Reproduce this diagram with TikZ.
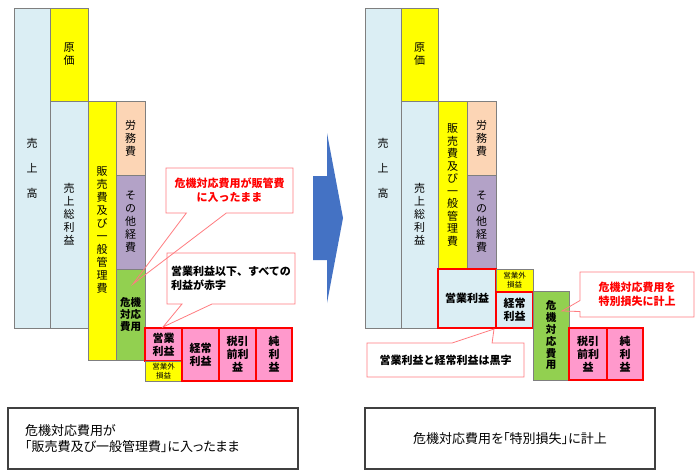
\documentclass[tikz,border=0pt]{standalone}
\usepackage{fontspec}
\setmainfont{Noto Sans CJK JP}
\newfontfamily\notefont[RawFeature=+palt]{Noto Sans CJK JP}
\usepackage[HTML]{xcolor}
\usetikzlibrary{shapes.callouts}

\definecolor{urifill}{HTML}{DBEEF4}
\definecolor{genkafill}{HTML}{FFFF00}
\definecolor{roumufill}{HTML}{FCD5B5}
\definecolor{sonotafill}{HTML}{B3A2C7}
\definecolor{kikifill}{HTML}{92D050}
\definecolor{riekifill}{HTML}{FF99CC}
\definecolor{callline}{HTML}{FF7C80}
\definecolor{arrowblue}{HTML}{4472C4}
\definecolor{barline}{HTML}{7F7F7F}

\begin{document}
\begin{tikzpicture}[x=1pt, y=-1pt,
  bar/.style={draw=barline, line width=0.8pt, inner sep=0pt, outer sep=0pt, align=center, font=\fontsize{11}{13}\selectfont},
  rieki/.style={bar, draw=red, line width=1.4pt, font=\fontsize{11}{13}\selectfont\bfseries},
  gaibox/.style={bar, fill=genkafill, font=\fontsize{7.5}{9}\selectfont},
  callbox/.style={rectangle callout, draw=callline, line width=0.8pt, inner sep=0pt, align=center, font=\fontsize{11}{14}\selectfont\bfseries},
  notebox/.style={draw=black!75, line width=1.2pt, minimum width=290, minimum height=61, inner sep=0pt, font=\notefont\fontsize{13}{16}\selectfont}]
\useasboundingbox (0,0) rectangle (700,472);
\fill[white] (0,0) rectangle (700,472);

% left: before
\node[bar, fill=urifill, minimum width=36, minimum height=320, font=\fontsize{11}{25}\selectfont] (uri1) at (32,168) {売\\上\\高};
\node[bar, fill=genkafill, minimum width=38, minimum height=93] (genka1) at (69,54.5) {原\\価};
\node[bar, fill=urifill, minimum width=38, minimum height=227] (sourieki1) at (69,214.5) {売\\上\\総\\利\\益};
\node[bar, fill=genkafill, minimum width=28, minimum height=259] (hankan1) at (102,230.5) {販\\売\\費\\及\\び\\一\\般\\管\\理\\費};
\node[bar, fill=roumufill, minimum width=29, minimum height=74] (roumu1) at (130.5,138) {労\\務\\費};
\node[bar, fill=sonotafill, minimum width=29, minimum height=94] (sonota1) at (130.5,222) {そ\\の\\他\\経\\費};
\node[bar, fill=kikifill, minimum width=29, minimum height=91, font=\fontsize{10.5}{12}\selectfont\bfseries] (kiki1) at (130.5,314.5) {危機\\対応\\費用};
\node[rieki, fill=riekifill, minimum width=37, minimum height=33] (eigyo1) at (163.5,344.5) {営業\\利益};
\node[gaibox, minimum width=37, minimum height=20] (gai1) at (163.5,371) {営業外\\損益};
\node[rieki, fill=riekifill, minimum width=37, minimum height=53] (keijo1) at (200.5,354.5) {経常\\利益};
\node[rieki, fill=riekifill, minimum width=37, minimum height=53] (zeibiki1) at (237.5,354.5) {税引\\前利\\益};
\node[rieki, fill=riekifill, minimum width=36, minimum height=53] (jun1) at (274,354.5) {純\\利\\益};

\coordinate (tip1) at (133,284);
\coordinate (tip2) at (163,327);
\node[callbox, text=red, minimum width=127, minimum height=45, callout pointer width=40, callout absolute pointer={(tip1)}] (call1) at (229.5,190.5) {危機対応費用が販管費\\に入ったまま};
\node[callbox, align=left, minimum width=128, minimum height=51, callout pointer width=30, callout absolute pointer={(tip2)}] (call2) at (231,278.5) {営業利益以下、すべての\\利益が赤字};

% arrow
\fill[arrowblue] (313,176) -- (327,176) -- (327,133) -- (343,218) -- (327,303) -- (327,260) -- (313,260) -- cycle;

% right: after
\node[bar, fill=urifill, minimum width=36, minimum height=320, font=\fontsize{11}{25}\selectfont] (uri2) at (383,168) {売\\上\\高};
\node[bar, fill=genkafill, minimum width=37, minimum height=93] (genka2) at (419.5,54.5) {原\\価};
\node[bar, fill=urifill, minimum width=37, minimum height=227] (sourieki2) at (419.5,214.5) {売\\上\\総\\利\\益};
\node[bar, fill=genkafill, minimum width=29, minimum height=168, font=\fontsize{11}{12.5}\selectfont] (hankan2) at (452.5,185) {販\\売\\費\\及\\び\\一\\般\\管\\理\\費};
\node[bar, fill=roumufill, minimum width=29, minimum height=74] (roumu2) at (481.5,138) {労\\務\\費};
\node[bar, fill=sonotafill, minimum width=29, minimum height=94] (sonota2) at (481.5,222) {そ\\の\\他\\経\\費};
\node[rieki, fill=urifill, minimum width=58, minimum height=59] (eigyo2) at (467,298.5) {営業利益};
\node[gaibox, minimum width=37, minimum height=23] (gai2) at (514.5,280.5) {営業外\\損益};
\node[rieki, fill=urifill, minimum width=37, minimum height=36] (keijo2) at (514.5,310) {経常\\利益};
\node[bar, fill=kikifill, minimum width=36, minimum height=89, font=\fontsize{10.5}{11.8}\selectfont\bfseries] (kiki2) at (551,335.5) {危\\機\\対\\応\\費\\用};
\node[rieki, fill=riekifill, minimum width=38, minimum height=52] (zeibiki2) at (588,354) {税引\\前利\\益};
\node[rieki, fill=riekifill, minimum width=36, minimum height=52] (jun2) at (625,354) {純\\利\\益};

\coordinate (tip3) at (562,311);
\coordinate (tip4) at (494,329);
\node[callbox, text=red, minimum width=114, minimum height=45, callout pointer width=11, callout absolute pointer={(tip3)}] (call3) at (637,294.5) {危機対応費用を\\特別損失に計上};
\node[callbox, minimum width=157, minimum height=34, callout pointer width=40, callout absolute pointer={(tip4)}] (call4) at (445.5,360) {営業利益と経常利益は黒字};

% notes
\node[notebox, align=left, text width=256] (note1) at (153,438.5) {危機対応費用が\\「販売費及び一般管理費」に入ったまま};
\node[notebox, align=center] (note2) at (510,438.5) {危機対応費用を「特別損失」に計上};
\end{tikzpicture}
\end{document}
